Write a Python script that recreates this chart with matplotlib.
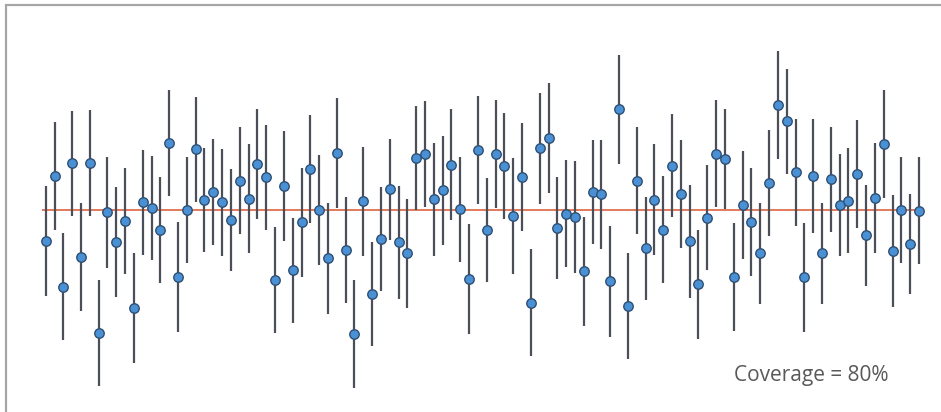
import matplotlib
matplotlib.use("Agg")
import matplotlib.pyplot as plt
from matplotlib.patches import Rectangle
import numpy as np

# sample means (relative to the true value, 0) and interval half-widths
means = [-3.10, 3.43, -7.67, 4.70, -4.67, 4.70, -12.30, -0.23, -3.23, -1.10,
         -9.80, 0.77, 0.20, -1.97, 6.67, -6.70, 0.00, 6.07, 0.97, 1.80,
         0.77, -1.00, 2.93, 1.13, 4.60, 3.27, -7.00, 2.40, -6.03, -1.23,
         4.10, 0.00, -4.83, 5.73, -4.00, -12.40, 0.87, -8.40, -2.87, 2.07,
         -3.23, -4.33, 5.20, 5.63, 1.10, 1.97, 4.53, 0.10, -6.87, 6.00,
         -2.03, 5.57, 4.40, -0.57, 3.27, -9.27, 6.17, 7.20, -1.80, -0.37,
         -0.67, -6.13, 1.80, 1.57, -7.13, 10.07, -9.60, 2.93, -3.83, 1.03,
         -1.97, 4.43, 1.63, -3.13, -7.40, -0.77, 5.63, 5.13, -6.70, 0.53,
         -1.17, -4.33, 2.67, 10.50, 8.87, 3.77, -6.70, 3.43, -4.33, 3.07,
         0.53, 0.93, 3.60, -2.53, 1.23, 6.60, -4.07, 0.00, -3.40, -0.07]
halfw = [5.50, 5.38, 5.33, 5.25, 5.38, 5.32, 5.33, 5.52, 5.50, 5.30,
         5.53, 5.22, 5.17, 5.28, 5.30, 5.50, 5.28, 5.28, 5.20, 5.32,
         5.33, 5.13, 5.35, 5.45, 5.50, 5.25, 5.33, 5.52, 5.25, 5.47,
         5.42, 5.50, 5.55, 5.48, 5.30, 5.42, 5.45, 5.22, 5.20, 5.08,
         5.67, 5.42, 5.23, 5.28, 5.65, 5.47, 5.53, 5.25, 5.50, 5.37,
         5.20, 5.40, 5.28, 5.78, 5.40, 5.35, 5.53, 5.53, 5.12, 5.35,
         5.60, 5.48, 5.23, 5.42, 5.53, 5.45, 5.33, 5.35, 5.17, 5.57,
         5.33, 5.15, 5.38, 5.65, 5.45, 5.25, 5.37, 5.02, 5.42, 5.40,
         5.38, 5.08, 5.30, 5.42, 5.28, 5.37, 5.45, 5.70, 5.07, 5.25,
         5.08, 5.23, 5.38, 5.05, 5.50, 5.42, 5.62, 5.28, 5.03, 5.33]
true_value = 0.0
coverage_label = "Coverage = 80%"

n = len(means)
idx = np.arange(1, n + 1)

fig = plt.figure(figsize=(9.41, 4.12), dpi=100)
ax = fig.add_axes([0, 0, 1, 1])
ax.axis('off')

ax.hlines(true_value, 0.55, n + 0.45, color='#E0704F', linewidth=1.3, zorder=1)
ax.errorbar(idx, means, yerr=halfw, fmt='o', color='#4A4F5A', ecolor='#4A4F5A',
            elinewidth=1.6, capsize=0, markersize=6.8, markerfacecolor='#4A90D4',
            markeredgecolor='#2F4F72', markeredgewidth=1.0, zorder=2)

ax.set_xlim(-4.18, 102.49)
ax.set_ylim(-20.2, 21.0)

# grey frame (only the left and top edges fall inside the image)
fig.add_artist(Rectangle((6 / 941, -0.1), 1.2, 1.1 - 5 / 412 + 0.0, transform=fig.transFigure,
                         fill=False, edgecolor='#A6A6A6', linewidth=1.6))

fig.text(811 / 941, 1 - 375 / 412, coverage_label, ha='center', va='center',
         fontsize=15, color='#595959', family='Open Sans')

fig.savefig("out.png", dpi=100)
